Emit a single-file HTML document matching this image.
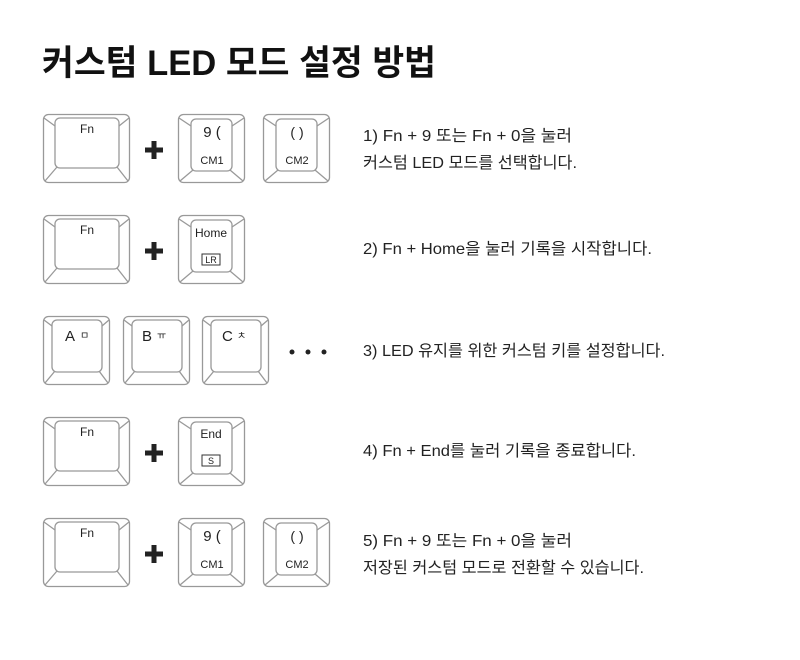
<!DOCTYPE html>
<html><head><meta charset="utf-8"><style>
html,body{margin:0;padding:0;background:#fff;width:800px;height:660px;overflow:hidden}
svg text{font-family:"Liberation Sans","Noto Sans CJK KR",sans-serif}
</style></head><body>
<svg width="800" height="660" viewBox="0 0 800 660" xmlns="http://www.w3.org/2000/svg">
<defs>
<g id="kw" fill="none" stroke="#999" stroke-width="1.3">
 <rect x="0.5" y="0.5" width="86" height="68" rx="5" fill="#fff"/>
 <rect x="12" y="4" width="64" height="50" rx="5"/>
 <line x1="1" y1="4" x2="12" y2="12"/><line x1="86" y1="4" x2="76" y2="12"/>
 <line x1="2" y1="67" x2="14" y2="53"/><line x1="85" y1="67" x2="74" y2="53"/>
</g>
<g id="kn" fill="none" stroke="#999" stroke-width="1.3">
 <rect x="0.5" y="0.5" width="66" height="68" rx="5" fill="#fff"/>
 <rect x="13" y="5" width="41" height="52" rx="5"/>
 <line x1="1" y1="4" x2="13" y2="12"/><line x1="66" y1="4" x2="54" y2="12"/>
 <line x1="2" y1="67" x2="15" y2="56"/><line x1="65" y1="67" x2="52" y2="56"/>
</g>
<g id="km" fill="none" stroke="#999" stroke-width="1.3">
 <rect x="0.5" y="0.5" width="66" height="68" rx="5" fill="#fff"/>
 <rect x="9" y="4" width="50" height="52" rx="5"/>
 <line x1="1" y1="4" x2="9" y2="10"/><line x1="66" y1="4" x2="59" y2="10"/>
 <line x1="2" y1="67" x2="12" y2="55"/><line x1="65" y1="67" x2="56" y2="55"/>
</g>
<g id="plus"><rect x="-9" y="-2.5" width="18" height="5" fill="#222"/><rect x="-2.5" y="-9" width="5" height="18" fill="#222"/></g>
</defs>

<text x="42" y="75" font-size="35" font-weight="bold" fill="#111" textLength="394" lengthAdjust="spacingAndGlyphs">커스텀 LED 모드 설정 방법</text>

<!-- Row 1 -->
<use href="#kw" x="43" y="114"/><text x="87" y="133" font-size="12" text-anchor="middle" fill="#222">Fn</text>
<use href="#plus" x="154" y="150"/>
<use href="#kn" x="178" y="114"/><text x="212" y="137" font-size="15" text-anchor="middle" fill="#222">9 (</text><text x="212" y="164" font-size="11" text-anchor="middle" fill="#222">CM1</text>
<use href="#kn" x="263" y="114"/><text x="297" y="137" font-size="14" text-anchor="middle" fill="#222">( )</text><text x="297" y="164" font-size="11" text-anchor="middle" fill="#222">CM2</text>
<text x="363" y="141" font-size="16" fill="#222" textLength="209" lengthAdjust="spacingAndGlyphs">1) Fn + 9 또는 Fn + 0을 눌러</text>
<text x="363" y="168" font-size="16" fill="#222" textLength="214" lengthAdjust="spacingAndGlyphs">커스텀 LED 모드를 선택합니다.</text>

<!-- Row 2 -->
<use href="#kw" x="43" y="215"/><text x="87" y="234" font-size="12" text-anchor="middle" fill="#222">Fn</text>
<use href="#plus" x="154" y="251"/>
<use href="#kn" x="178" y="215"/><text x="211" y="237" font-size="12" text-anchor="middle" fill="#222">Home</text>
<rect x="202" y="254" width="18" height="11" fill="none" stroke="#333" stroke-width="1"/><text x="211" y="263" font-size="9" text-anchor="middle" fill="#222">LR</text>
<text x="363" y="254" font-size="16" fill="#222" textLength="289" lengthAdjust="spacingAndGlyphs">2) Fn + Home을 눌러 기록을 시작합니다.</text>

<!-- Row 3 -->
<use href="#km" x="43" y="316"/><text x="65" y="341" font-size="15" fill="#222">A</text><text x="80" y="339" font-size="10" fill="#222">ㅁ</text>
<use href="#km" x="123" y="316"/><text x="142" y="341" font-size="15" fill="#222">B</text><text x="157" y="339" font-size="10" fill="#222">ㅠ</text>
<use href="#km" x="202" y="316"/><text x="222" y="341" font-size="15" fill="#222">C</text><text x="237" y="339" font-size="10" fill="#222">ㅊ</text>
<circle cx="292" cy="352" r="2.5" fill="#222"/><circle cx="308" cy="352" r="2.5" fill="#222"/><circle cx="324" cy="352" r="2.5" fill="#222"/>
<text x="363" y="356" font-size="16" fill="#222" textLength="302" lengthAdjust="spacingAndGlyphs">3) LED 유지를 위한 커스텀 키를 설정합니다.</text>

<!-- Row 4 -->
<use href="#kw" x="43" y="417"/><text x="87" y="436" font-size="12" text-anchor="middle" fill="#222">Fn</text>
<use href="#plus" x="154" y="453"/>
<use href="#kn" x="178" y="417"/><text x="211" y="438" font-size="12" text-anchor="middle" fill="#222">End</text>
<rect x="202" y="455" width="18" height="11" fill="none" stroke="#333" stroke-width="1"/><text x="211" y="464" font-size="9" text-anchor="middle" fill="#222">S</text>
<text x="363" y="456" font-size="16" fill="#222" textLength="273" lengthAdjust="spacingAndGlyphs">4) Fn + End를 눌러 기록을 종료합니다.</text>

<!-- Row 5 -->
<use href="#kw" x="43" y="518"/><text x="87" y="537" font-size="12" text-anchor="middle" fill="#222">Fn</text>
<use href="#plus" x="154" y="554"/>
<use href="#kn" x="178" y="518"/><text x="212" y="541" font-size="15" text-anchor="middle" fill="#222">9 (</text><text x="212" y="568" font-size="11" text-anchor="middle" fill="#222">CM1</text>
<use href="#kn" x="263" y="518"/><text x="297" y="541" font-size="14" text-anchor="middle" fill="#222">( )</text><text x="297" y="568" font-size="11" text-anchor="middle" fill="#222">CM2</text>
<text x="363" y="546" font-size="16" fill="#222" textLength="209" lengthAdjust="spacingAndGlyphs">5) Fn + 9 또는 Fn + 0을 눌러</text>
<text x="363" y="573" font-size="16" fill="#222" textLength="281" lengthAdjust="spacingAndGlyphs">저장된 커스텀 모드로 전환할 수 있습니다.</text>
</svg>
</body></html>
